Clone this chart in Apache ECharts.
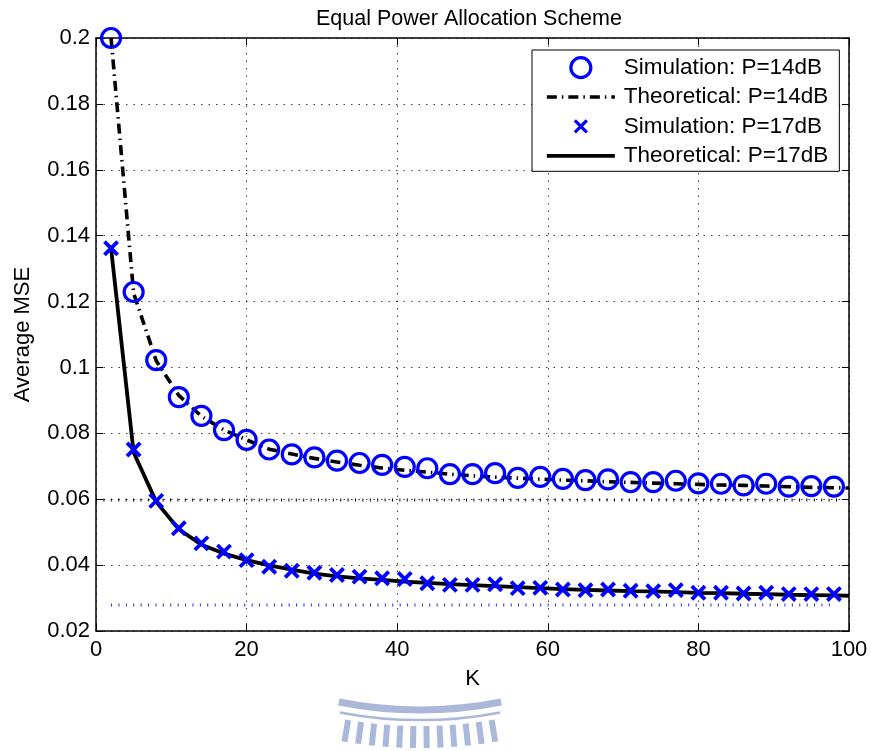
<!DOCTYPE html>
<html><head><meta charset="utf-8">
<script src="https://cdn.jsdelivr.net/npm/echarts@6/dist/echarts.min.js"></script>
<style>html,body{margin:0;padding:0;background:#fff}#c{width:871px;height:751px}</style>
</head><body><div id="c"></div>
<script>
// ---- data ----
const K = [2,5,8,11,14,17,20,23,26,29,32,35,38,41,44,47,50,53,56,59,62,65,68,71,74,77,80,83,86,89,92,95,98];
const sim14 = [0.2,0.1229,0.1022,0.0910,0.0853,0.0810,0.0780,0.0751,0.0736,0.0727,0.0717,0.0710,0.0704,0.0698,0.0694,0.0676,0.0676,0.0679,0.0665,0.0668,0.0662,0.0658,0.0660,0.0652,0.0652,0.0656,0.0648,0.0647,0.0642,0.0647,0.0638,0.0640,0.0638];
const sim17 = [0.1362,0.0751,0.0595,0.0512,0.0466,0.0441,0.0415,0.0395,0.0383,0.0377,0.0370,0.0365,0.0360,0.0358,0.0345,0.0340,0.0340,0.0342,0.0330,0.0331,0.0326,0.0324,0.0326,0.0322,0.0321,0.0324,0.0316,0.0316,0.0314,0.0316,0.0312,0.0312,0.0312];
const theoK = [2,5,8,11,14,17,20,23,26,29,32,35,38,41,44,47,50,53,56,59,62,65,68,71,74,77,80,83,86,89,92,95,98,100];
const theo14 = [0.2,0.1225,0.1020,0.0915,0.0852,0.0810,0.0780,0.0752,0.0737,0.0724,0.0713,0.0703,0.0695,0.0688,0.0682,0.0676,0.0671,0.0667,0.0664,0.0661,0.0658,0.0656,0.0653,0.0651,0.0649,0.0647,0.0645,0.0643,0.0642,0.0640,0.0638,0.0636,0.0635,0.0634];
const theo17 = [0.1362,0.0742,0.0592,0.0509,0.0462,0.0435,0.0415,0.0399,0.0386,0.0374,0.0366,0.0360,0.0355,0.0350,0.0346,0.0342,0.0339,0.0336,0.0333,0.0330,0.0327,0.0325,0.0323,0.0321,0.0320,0.0318,0.0316,0.0315,0.0313,0.0312,0.0310,0.0309,0.0308,0.0307];
const bound14K = [0, 99];
const bound14 = [0.0598, 0.0598];
const bound17K = [2, 98];
const bound17 = [0.0279, 0.0279];
const names = ['Simulation: P=14dB','Theoretical: P=14dB','Simulation: P=17dB','Theoretical: P=17dB'];
const titleText = 'Equal Power Allocation Scheme';
const xName = 'K', yName = 'Average MSE';

// ---- chart ----
const FONT = 'Liberation Sans, Arial, Helvetica, sans-serif';
const pairs = (xs, ys) => xs.map((x, i) => [x, ys[i]]);
const chart = echarts.init(document.getElementById('c'), null, {renderer: 'canvas'});

const gridDash = {type: [1.5, 6], color: '#000', width: 1, opacity: 0.75};
const axisCommon = {
  type: 'value',
  axisLine: {show: true, onZero: false, lineStyle: {color: '#000', width: 1.5}},
  axisTick: {show: true, inside: true, length: 7, lineStyle: {color: '#000', width: 1}},
  minorTick: {show: false}
};

// watermark (decoration)
const wm = [];
const wcx = 420, wcy = 292, wcol = '#aab9da';
wm.push({type: 'arc', silent: true, shape: {cx: wcx, cy: wcy, r: 418, startAngle: (90 - 11.2) * Math.PI / 180, endAngle: (90 + 11.2) * Math.PI / 180}, style: {stroke: wcol, lineWidth: 7, fill: null}});
wm.push({type: 'arc', silent: true, shape: {cx: wcx, cy: wcy, r: 428, startAngle: (90 - 10.8) * Math.PI / 180, endAngle: (90 + 10.8) * Math.PI / 180}, style: {stroke: wcol, lineWidth: 2.5, fill: null}});
for (let a = -9.5; a <= 9.6; a += 1.73) {
  const t = (90 + a) * Math.PI / 180;
  wm.push({type: 'line', silent: true, shape: {x1: wcx + 434 * Math.cos(t), y1: wcy + 434 * Math.sin(t), x2: wcx + 456 * Math.cos(t), y2: wcy + 456 * Math.sin(t)}, style: {stroke: wcol, lineWidth: 6}});
}

const hideSym = {color: 'transparent', borderWidth: 0, opacity: 0};
const option = {
  animation: false,
  backgroundColor: '#fff',
  title: {text: titleText, left: 311, top: 3, textStyle: {fontFamily: FONT, fontSize: 21.5, fontWeight: 'normal', color: '#000'}},
  grid: {left: 96, right: 22, top: 38, bottom: 120, containLabel: false},
  graphic: wm,
  legend: {
    data: [
      {name: names[0]},
      {name: names[1], itemStyle: hideSym},
      {name: names[2]},
      {name: names[3], itemStyle: hideSym}
    ],
    orient: 'vertical', left: 532, top: 50,
    padding: [6, 11, 4, 13], itemGap: 6.3, itemWidth: 68, itemHeight: 20,
    backgroundColor: '#fff', borderColor: '#000', borderWidth: 1, borderRadius: 0,
    itemStyle: {borderWidth: 3.2},
    lineStyle: {width: 3.7},
    textStyle: {fontFamily: FONT, fontSize: 22.5, color: '#000', padding: [0, 0, 0, 4]},
    selectedMode: false
  },
  xAxis: [
    Object.assign({}, axisCommon, {
      position: 'bottom', min: 0, max: 100, interval: 20,
      axisLabel: {fontFamily: FONT, fontSize: 22, color: '#000', margin: 8},
      splitLine: {show: true, lineStyle: gridDash},
      name: xName, nameLocation: 'middle', nameGap: 37,
      nameTextStyle: {fontFamily: FONT, fontSize: 22, color: '#000'}
    }),
    Object.assign({}, axisCommon, {
      position: 'top', min: 0, max: 100, interval: 20,
      axisLabel: {show: false}, splitLine: {show: false}
    })
  ],
  yAxis: [
    Object.assign({}, axisCommon, {
      position: 'left', min: 0.02, max: 0.2, interval: 0.02,
      axisLabel: {fontFamily: FONT, fontSize: 22, color: '#000', margin: 6, formatter: v => String(+v.toFixed(2))},
      splitLine: {show: true, lineStyle: gridDash},
      name: yName, nameLocation: 'middle', nameGap: 62,
      nameTextStyle: {fontFamily: FONT, fontSize: 22, color: '#000'}
    }),
    Object.assign({}, axisCommon, {
      position: 'right', min: 0.02, max: 0.2, interval: 0.02,
      axisLabel: {show: false}, splitLine: {show: false}
    })
  ],
  series: [
    {name: 'bound14', type: 'line', data: pairs(bound14K, bound14), symbol: 'none', silent: true, z: 1,
     lineStyle: {color: '#000', width: 3, type: [1, 6.4]}},
    {name: 'bound17', type: 'line', data: pairs(bound17K, bound17), symbol: 'none', silent: true, z: 1,
     lineStyle: {color: '#0000ff', width: 3, type: [1, 6.4], opacity: 0.85}},
    {name: names[1], type: 'line', data: pairs(theoK, theo14), symbol: 'none', z: 2,
     lineStyle: {color: '#000', width: 3.6, type: [10, 5, 1.5, 5]}, itemStyle: {color: '#000'}},
    {name: names[3], type: 'line', data: pairs(theoK, theo17), symbol: 'none', z: 2,
     lineStyle: {color: '#000', width: 3.8, type: 'solid'}, itemStyle: {color: '#000'}},
    {name: names[0], type: 'scatter', data: pairs(K, sim14), symbol: 'circle', symbolSize: 19, z: 3,
     itemStyle: {color: 'transparent', borderColor: '#0000ff', borderWidth: 3.2, opacity: 1}},
    {name: names[2], type: 'scatter', data: pairs(K, sim17), symbol: 'path://M0,0M20,20M4,4L16,16M16,4L4,16', symbolSize: 22, z: 3,
     itemStyle: {color: 'transparent', borderColor: '#0000ff', borderWidth: 3.8, opacity: 1}}
  ]
};
chart.setOption(option);
</script>
</body></html>
